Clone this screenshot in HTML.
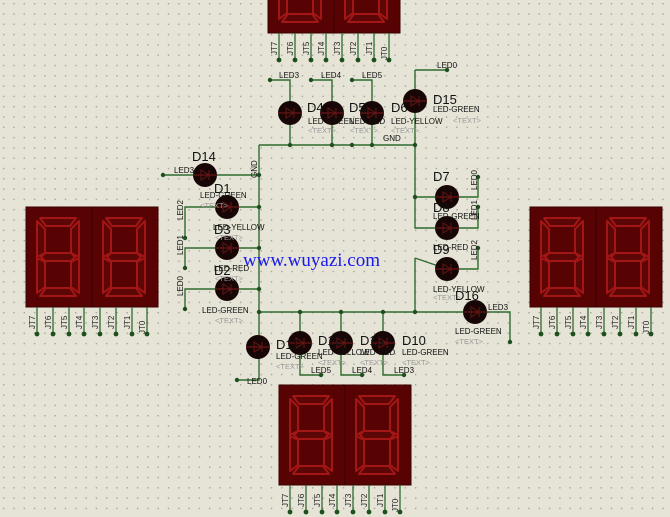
<!DOCTYPE html>
<html><head><meta charset="utf-8"><style>
html,body{margin:0;padding:0;background:#e6e4d6;}
svg{display:block;font-family:"Liberation Sans",sans-serif;}
</style></head><body>
<svg width="670" height="517" viewBox="0 0 670 517" xmlns="http://www.w3.org/2000/svg">
<defs>
<pattern id="grid" width="10.3" height="10.3" patternUnits="userSpaceOnUse" x="3" y="3">
<rect x="0" y="0" width="1.4" height="1.4" fill="#a4a49a"/>
</pattern>
<g id="digit">
<g fill="#5c0606" stroke="#a31616" stroke-width="2" stroke-linejoin="round">
<polygon points="17,11 53,11 47,19 23,19"/>
<polygon points="14,14 22,22 22,46 14,50"/>
<polygon points="56,14 56,50 48,46 48,22"/>
<polygon points="18,50 22,46 48,46 52,50 48,54 22,54"/>
<polygon points="14,51 22,55 22,80 14,86"/>
<polygon points="56,51 56,86 48,80 48,55"/>
<polygon points="23,81 47,81 53,89 17,89"/>
</g>
</g>
<g id="disp">
<rect x="0" y="0" width="132" height="100" fill="#580303" stroke="#3a0000"/>
<line x1="66" y1="0" x2="66" y2="100" stroke="#3a0000"/>
<use href="#digit" x="-3" y="0"/>
<use href="#digit" x="63" y="0"/>
<g stroke="#2f6b2f" stroke-width="1.3">
<line x1="11" y1="100" x2="11" y2="127"/><line x1="27" y1="100" x2="27" y2="127"/>
<line x1="43" y1="100" x2="43" y2="127"/><line x1="58" y1="100" x2="58" y2="127"/>
<line x1="74" y1="100" x2="74" y2="127"/><line x1="90" y1="100" x2="90" y2="127"/>
<line x1="106" y1="100" x2="106" y2="127"/><line x1="121" y1="100" x2="121" y2="127"/>
</g>
<g fill="#1e4f1e">
<circle cx="11" cy="127" r="2.4"/><circle cx="27" cy="127" r="2.4"/><circle cx="43" cy="127" r="2.4"/><circle cx="58" cy="127" r="2.4"/>
<circle cx="74" cy="127" r="2.4"/><circle cx="90" cy="127" r="2.4"/><circle cx="106" cy="127" r="2.4"/><circle cx="121" cy="127" r="2.4"/>
</g>
<g font-size="8" fill="#222">
<text transform="translate(9,122) rotate(-90)">JT7</text>
<text transform="translate(25,122) rotate(-90)">JT6</text>
<text transform="translate(41,122) rotate(-90)">JT5</text>
<text transform="translate(56,122) rotate(-90)">JT4</text>
<text transform="translate(72,122) rotate(-90)">JT3</text>
<text transform="translate(88,122) rotate(-90)">JT2</text>
<text transform="translate(104,122) rotate(-90)">JT1</text>
<text transform="translate(119,127) rotate(-90)">JT0</text>
</g>
</g>
<g id="led">
<circle r="12" fill="#170606"/>
<line x1="-12" y1="0" x2="12" y2="0" stroke="#7a1a1a" stroke-width="1"/>
<polygon points="-4,-5 -4,5 4,0" fill="none" stroke="#6a1414" stroke-width="1"/>
<line x1="4" y1="-5" x2="4" y2="5" stroke="#6a1414" stroke-width="1"/>
</g>
</defs>
<rect width="670" height="517" fill="#e6e4d6"/>
<rect width="670" height="517" fill="url(#grid)"/>

<g stroke="#2f6b2f" stroke-width="1.4" fill="none">
<polyline points="259,145 415,145"/>
<polyline points="259,145 259,380 237,380"/>
<polyline points="415,70 447,70"/>
<polyline points="415,70 415,228 447,228"/>
<polyline points="415,197 447,197"/>
<polyline points="415,258 415,312"/>
<polyline points="259,312 510,312 510,342"/>
<polyline points="415,258 447,269"/>
<polyline points="270,80 290,80 290,145"/>
<polyline points="311,80 332,80 332,145"/>
<polyline points="352,80 372,80 372,145"/>
<polyline points="163,175 259,175"/>
<polyline points="185,238 185,207 259,207"/>
<polyline points="185,268 185,248 259,248"/>
<polyline points="185,309 185,289 259,289"/>
<polyline points="447,197 478,197 478,177"/>
<polyline points="447,228 478,228 478,207"/>
<polyline points="447,269 478,269 478,248"/>
<polyline points="300,312 300,375 321,375"/>
<polyline points="341,312 341,375 362,375"/>
<polyline points="383,312 383,375 404,375"/>
</g>
<g fill="#1e4f1e">
<circle cx="259" cy="175" r="2.2"/><circle cx="259" cy="207" r="2.2"/><circle cx="259" cy="248" r="2.2"/><circle cx="259" cy="289" r="2.2"/><circle cx="259" cy="312" r="2.2"/>
<circle cx="163" cy="175" r="2.2"/><circle cx="185" cy="238" r="2.2"/><circle cx="185" cy="268" r="2.2"/><circle cx="185" cy="309" r="2.2"/>
<circle cx="270" cy="80" r="2.2"/><circle cx="311" cy="80" r="2.2"/><circle cx="352" cy="80" r="2.2"/><circle cx="447" cy="70" r="2.2"/>
<circle cx="290" cy="145" r="2.2"/><circle cx="332" cy="145" r="2.2"/><circle cx="352" cy="145" r="2.2"/><circle cx="372" cy="145" r="2.2"/><circle cx="415" cy="145" r="2.2"/>
<circle cx="415" cy="197" r="2.2"/><circle cx="415" cy="312" r="2.2"/><circle cx="300" cy="312" r="2.2"/><circle cx="341" cy="312" r="2.2"/><circle cx="383" cy="312" r="2.2"/>
<circle cx="478" cy="177" r="2.2"/><circle cx="478" cy="207" r="2.2"/><circle cx="478" cy="248" r="2.2"/><circle cx="510" cy="342" r="2.2"/>
<circle cx="321" cy="375" r="2.2"/><circle cx="362" cy="375" r="2.2"/><circle cx="404" cy="375" r="2.2"/><circle cx="237" cy="380" r="2.2"/>
</g>

<use href="#disp" x="268" y="-67"/>
<use href="#disp" x="26" y="207"/>
<use href="#disp" x="530" y="207"/>
<use href="#disp" x="279" y="385"/>

<use href="#led" x="290" y="113"/><use href="#led" x="332" y="113"/><use href="#led" x="372" y="113"/><use href="#led" x="415" y="101"/>
<use href="#led" x="205" y="175"/><use href="#led" x="227" y="207"/><use href="#led" x="227" y="248"/><use href="#led" x="227" y="289"/>
<use href="#led" x="447" y="197"/><use href="#led" x="447" y="228"/><use href="#led" x="447" y="269"/><use href="#led" x="475" y="312"/>
<use href="#led" x="258" y="347"/><use href="#led" x="300" y="343"/><use href="#led" x="341" y="343"/><use href="#led" x="383" y="343"/>

<g fill="#111" font-size="8">
<text x="279" y="78">LED3</text><text x="321" y="78">LED4</text><text x="362" y="78">LED5</text><text x="437" y="68">LED0</text>
<text x="383" y="141">GND</text>
<text x="308" y="124">LED-GREEN</text><text x="350" y="124">LED-RED</text><text x="391" y="124">LED-YELLOW</text><text x="433" y="112">LED-GREEN</text>
<text x="174" y="173">LED3</text>
<text x="200" y="198">LED-GREEN</text><text x="213" y="230">LED-YELLOW</text><text x="214" y="271">LED-RED</text><text x="202" y="313">LED-GREEN</text>
<text x="433" y="219">LED-GREEN</text><text x="433" y="250">LED-RED</text><text x="433" y="292">LED-YELLOW</text>
<text x="455" y="334">LED-GREEN</text><text x="488" y="310">LED3</text>
<text x="276" y="359">LED-GREEN</text><text x="318" y="355">LED-YELLOW</text><text x="360" y="355">LED-RED</text><text x="402" y="355">LED-GREEN</text>
<text x="311" y="373">LED5</text><text x="352" y="373">LED4</text><text x="394" y="373">LED3</text><text x="247" y="384">LED0</text>
<text transform="translate(257,178) rotate(-90)">GND</text>
<text transform="translate(183,220) rotate(-90)">LED2</text>
<text transform="translate(183,255) rotate(-90)">LED1</text>
<text transform="translate(183,296) rotate(-90)">LED0</text>
<text transform="translate(477,190) rotate(-90)">LED0</text>
<text transform="translate(477,220) rotate(-90)">LED1</text>
<text transform="translate(477,260) rotate(-90)">LED2</text>
</g>
<g fill="#999" font-size="7.5">
<text x="308" y="133">&lt;TEXT&gt;.</text><text x="350" y="133">&lt;TEXT&gt;.</text><text x="391" y="133">&lt;TEXT&gt;.</text><text x="453" y="123">&lt;TEXT&gt;</text>
<text x="200" y="208">&lt;TEXT&gt;</text><text x="215" y="240">&lt;TEXT&gt;</text><text x="215" y="281">&lt;TEXT&gt;</text><text x="215" y="323">&lt;TEXT&gt;.</text>
<text x="433" y="300">&lt;TEXT&gt;</text><text x="455" y="344">&lt;TEXT&gt;.</text>
<text x="276" y="369">&lt;TEXT&gt;</text><text x="318" y="365">&lt;TEXT&gt;.</text><text x="360" y="365">&lt;TEXT&gt;.</text><text x="402" y="365">&lt;TEXT&gt;.</text>
</g>
<g fill="#111" font-size="13">
<text x="307" y="112">D4</text><text x="349" y="112">D5</text><text x="391" y="112">D6</text><text x="433" y="104">D15</text>
<text x="192" y="161">D14</text><text x="214" y="193">D1</text><text x="214" y="234">D3</text><text x="214" y="275">D2</text>
<text x="433" y="181">D7</text><text x="433" y="212">D8</text><text x="433" y="254">D9</text><text x="455" y="300">D16</text>
<text x="276" y="349">D11</text><text x="318" y="345">D12</text><text x="360" y="345">D13</text><text x="402" y="345">D10</text>
</g>
<text x="243" y="266" font-family="'Liberation Serif',serif" font-size="19" fill="#1a1aee">www.wuyazi.com</text>
</svg>
</body></html>
